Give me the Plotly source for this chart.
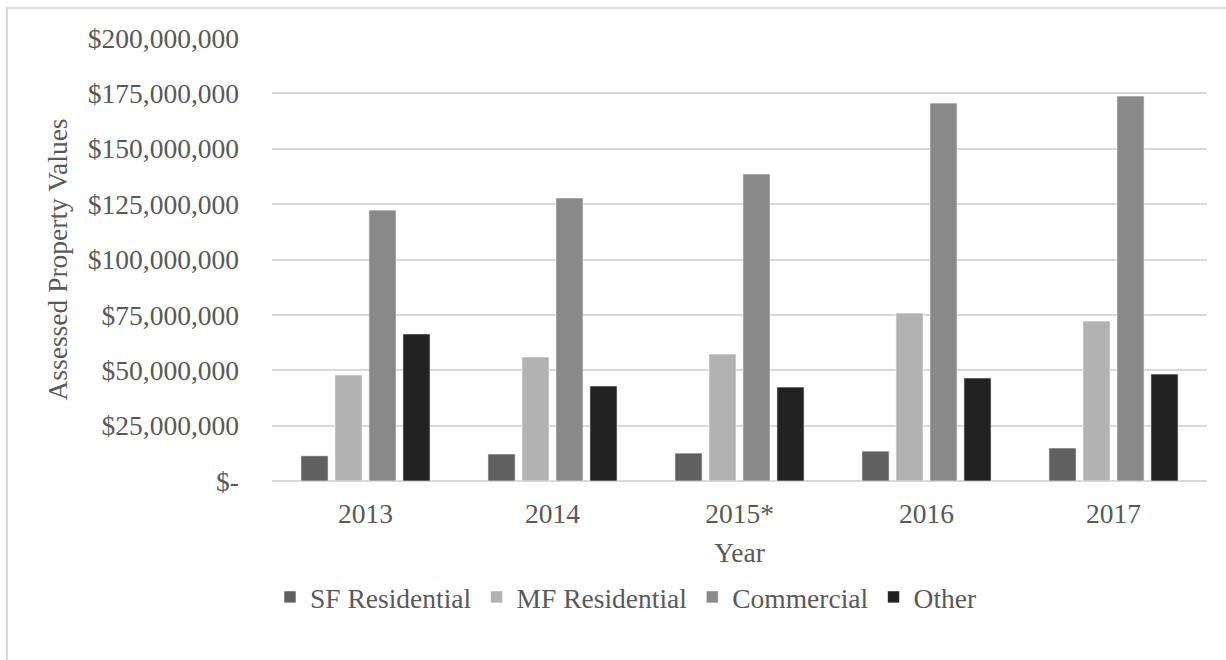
import plotly.graph_objects as go

years = ["2013", "2014", "2015*", "2016", "2017"]
sf_residential = [11.4e6, 12.2e6, 12.6e6, 13.5e6, 14.9e6]
mf_residential = [47.9e6, 56.0e6, 57.3e6, 75.8e6, 72.2e6]
commercial = [122.3e6, 127.8e6, 138.6e6, 170.6e6, 173.8e6]
other = [66.4e6, 42.9e6, 42.4e6, 46.5e6, 48.3e6]

tick_vals = [0, 25e6, 50e6, 75e6, 100e6, 125e6, 150e6, 175e6, 200e6]
tick_text = ["$-", "$25,000,000", "$50,000,000", "$75,000,000", "$100,000,000",
             "$125,000,000", "$150,000,000", "$175,000,000", "$200,000,000"]

series = [
    ("SF Residential", sf_residential, "#606060"),
    ("MF Residential", mf_residential, "#b2b2b2"),
    ("Commercial", commercial, "#898989"),
    ("Other", other, "#222222"),
]

FONT = "Liberation Serif"
LEGEND_FONT = "Times New Roman, Liberation Serif, serif"
TEXT = "#595959"
GRID = "#d9d9d9"
FS = 27.5

fig = go.Figure()
for name, vals, color in series:
    fig.add_trace(go.Bar(
        x=years, y=vals, name=name,
        marker=dict(color=color, line=dict(color="#ffffff", width=0.6)),
    ))

W, H = 1226, 660
L, R, T, B = 272, 19, 38, 179
pw, ph = W - L - R, H - T - B

def px_x(p):
    return (p - L) / pw

def px_y(p):
    return (H - B - p) / ph

fig.update_layout(
    width=W, height=H,
    margin=dict(l=L, r=R, t=T, b=B),
    paper_bgcolor="white", plot_bgcolor="white",
    barmode="group", bargap=0.273, bargroupgap=0.2,
    font=dict(family=FONT, size=FS, color=TEXT),
    showlegend=True,
    legend=dict(
        orientation="h", x=px_x(626), xanchor="center",
        y=px_y(597), yanchor="middle",
        font=dict(family=LEGEND_FONT, size=FS, color=TEXT),
        itemwidth=30, traceorder="normal",
    ),
    xaxis=dict(
        showgrid=False, showline=False, zeroline=False,
        ticks="outside", ticklen=8, tickcolor="rgba(0,0,0,0)",
        tickfont=dict(family=FONT, size=FS, color=TEXT),
        title=dict(text="Year", font=dict(family=FONT, size=FS, color=TEXT), standoff=14),
    ),
    yaxis=dict(
        range=[0, 200e6], tickvals=tick_vals, ticktext=tick_text,
        showgrid=True, gridcolor=GRID, gridwidth=1.5,
        zeroline=True, zerolinecolor=GRID, zerolinewidth=1.5,
        showline=False, ticks="", ticklabelstandoff=32,
        tickfont=dict(family=FONT, size=FS, color=TEXT),
        title=dict(text="Assessed Property Values",
                   font=dict(family=FONT, size=FS, color=TEXT), standoff=12),
    ),
    shapes=[dict(
        type="rect", xref="paper", yref="paper",
        x0=px_x(7), x1=px_x(1300), y0=px_y(8), y1=px_y(720),
        line=dict(color=GRID, width=2), fillcolor="rgba(0,0,0,0)", layer="below",
    )],
)

fig.write_html("out.html")
